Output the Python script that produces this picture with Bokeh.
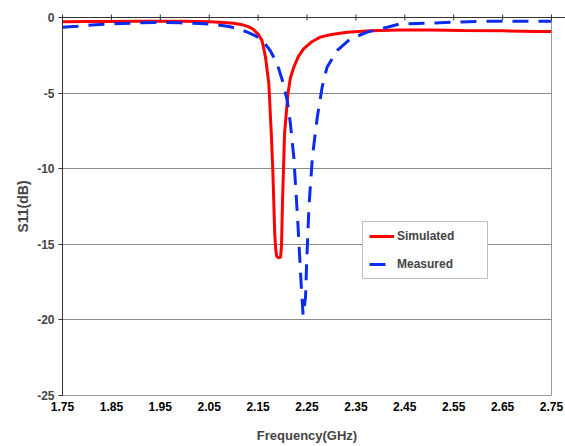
import math
from bokeh.plotting import figure
from bokeh.models import FixedTicker, LinearAxis, Range1d, Legend, LegendItem
from bokeh.embed import file_html
from bokeh.resources import INLINE

# ---- data ----
freq_sim = [1.75, 1.80, 1.85, 1.90, 1.95, 2.00, 2.05, 2.08, 2.10, 2.12, 2.13, 2.14, 2.15,
            2.158, 2.165, 2.172, 2.177, 2.180, 2.182, 2.184, 2.186, 2.188, 2.192, 2.196,
            2.198, 2.199, 2.200, 2.202, 2.204, 2.208, 2.211, 2.216, 2.223, 2.232, 2.243,
            2.26, 2.277, 2.30, 2.332, 2.38, 2.441, 2.50, 2.57, 2.65, 2.72, 2.75]
s11_sim = [-0.28, -0.27, -0.26, -0.25, -0.24, -0.25, -0.28, -0.33, -0.38, -0.50, -0.60,
           -0.78, -1.10, -1.52, -2.6, -4.4, -7.7, -10.0, -12.1, -14.3, -15.3, -15.8,
           -15.9, -15.85, -15.0, -13.5, -12.1, -10.0, -7.7, -6.2, -5.05, -4.0, -3.29,
           -2.6, -2.07, -1.6, -1.30, -1.12, -0.97, -0.88, -0.82, -0.82, -0.86, -0.88,
           -0.92, -0.93]

freq_meas = [1.75, 1.78, 1.81, 1.85, 1.90, 1.95, 1.99, 2.03, 2.059, 2.09, 2.11, 2.128,
             2.145, 2.158, 2.175, 2.189, 2.200, 2.2095, 2.216, 2.223, 2.231, 2.238, 2.242,
             2.247, 2.249, 2.254, 2.261, 2.271, 2.281, 2.291, 2.312, 2.339, 2.373, 2.414,
             2.441, 2.45, 2.50, 2.55, 2.60, 2.65, 2.70, 2.75]
s11_meas = [-0.64, -0.58, -0.50, -0.42, -0.36, -0.33, -0.35, -0.40, -0.46, -0.60, -0.75,
            -0.97, -1.22, -1.48, -2.2, -3.06, -4.2, -5.49, -7.0, -9.24, -13.4, -17.6,
            -19.7, -18.5, -16.5, -12.5, -9.24, -6.6, -4.6, -3.29, -2.18, -1.41, -0.97,
            -0.64, -0.42, -0.42, -0.37, -0.31, -0.26, -0.24, -0.24, -0.24]

x_ticks = [1.75, 1.85, 1.95, 2.05, 2.15, 2.25, 2.35, 2.45, 2.55, 2.65, 2.75]
y_ticks = [-25, -20, -15, -10, -5, 0]
y_tick_labels = ["-25", "-20", "-15", "-10", "-5", "0"]

FONT = "Liberation Sans"

p = figure(width=565, height=446, output_backend="svg", toolbar_location=None,
           x_range=Range1d(1.75, 2.75), y_range=Range1d(-25, 0),
           x_axis_location=None, y_axis_location=None,
           min_border_left=62, min_border_right=14, min_border_top=17, min_border_bottom=51)
p.background_fill_color = "white"
p.border_fill_color = "white"
p.outline_line_color = "#9a9a9a"
p.outline_line_width = 1

# bottom axis: labels only
xb = LinearAxis(ticker=FixedTicker(ticks=x_ticks))
xb.major_label_overrides = {t: f"{t:.2f}" for t in x_ticks}
xb.axis_line_color = None
xb.major_tick_line_color = None
xb.minor_tick_line_color = None
xb.major_tick_out = 0
xb.major_tick_in = 0
xb.major_label_standoff = 6
xb.major_label_text_font = FONT
xb.major_label_text_font_style = "bold"
xb.major_label_text_font_size = "12px"
xb.major_label_text_color = "black"
xb.axis_label = "Frequency(GHz)"
xb.axis_label_text_font = FONT
xb.axis_label_text_font_style = "bold"
xb.axis_label_text_font_size = "13px"
xb.axis_label_standoff = 14
p.add_layout(xb, "below")

# left axis
yl = LinearAxis(ticker=FixedTicker(ticks=y_ticks))
yl.major_label_overrides = dict(zip(y_ticks, y_tick_labels))
yl.axis_line_color = "#333333"
yl.major_tick_line_color = "#333333"
yl.major_tick_out = 4
yl.major_tick_in = 0
yl.minor_tick_line_color = None
yl.major_label_standoff = 4
yl.major_label_text_font = FONT
yl.major_label_text_font_style = "bold"
yl.major_label_text_font_size = "12px"
yl.axis_label = "S11(dB)"
yl.axis_label_text_font = FONT
yl.axis_label_text_font_style = "bold"
yl.axis_label_text_font_size = "14px"
yl.axis_label_standoff = 3
p.add_layout(yl, "left")

p.xgrid.grid_line_color = None
p.ygrid.ticker = FixedTicker(ticks=[-20, -15, -10, -5])
p.ygrid.grid_line_color = "#8a8a8a"
p.ygrid.grid_line_width = 1

# top axis line (y = 0) with tick marks crossing it
p.ray(x=[1.75], y=[0], length=0, angle=0, line_color="#333333", line_width=1, level="overlay")
p.scatter(x=x_ticks, y=[0] * len(x_ticks), marker="dash", angle=math.pi / 2, size=6,
          line_color="#333333", line_width=1, level="overlay")

r_sim = p.line(freq_sim, s11_sim, line_color="#ff0000", line_width=3)
r_meas = p.line(freq_meas, s11_meas, line_color="#0a2cf0", line_width=3, line_dash="16 10")

legend = Legend(items=[LegendItem(label="Simulated", renderers=[r_sim]),
                       LegendItem(label="Measured", renderers=[r_meas])],
                location=(300, 116))
legend.border_line_color = "#808080"
legend.border_line_width = 1
legend.background_fill_color = "white"
legend.background_fill_alpha = 1
legend.padding = 6
legend.margin = 0
legend.spacing = 12
legend.glyph_width = 25
legend.glyph_height = 16
legend.label_height = 16
legend.label_standoff = 3
legend.label_width = 84
legend.label_text_font = FONT
legend.label_text_font_style = "bold"
legend.label_text_font_size = "12px"
p.add_layout(legend, "center")

open("out.html", "w").write(file_html(p, INLINE))
